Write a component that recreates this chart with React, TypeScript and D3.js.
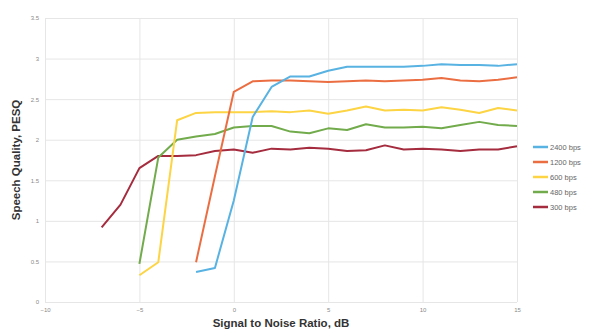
import * as d3 from 'd3';
import { useEffect, useRef } from 'react';

// x positions, dB
const snr = [-7, -6, -5, -4, -3, -2, -1, 0, 1, 2, 3, 4, 5, 6, 7, 8, 9, 10, 11, 12, 13, 14, 15];

// PESQ per series, null where the curve has no point
const bps2400 = [null, null, null, null, null, 0.37, 0.42, 1.25, 2.28, 2.65, 2.78, 2.78, 2.85, 2.9, 2.9, 2.9, 2.9, 2.91, 2.93, 2.92, 2.92, 2.91, 2.93];
const bps1200 = [null, null, null, null, null, 0.49, 1.55, 2.59, 2.72, 2.73, 2.73, 2.72, 2.71, 2.72, 2.73, 2.72, 2.73, 2.74, 2.76, 2.73, 2.72, 2.74, 2.77];
const bps600 = [null, null, 0.33, 0.49, 2.24, 2.33, 2.34, 2.34, 2.34, 2.35, 2.34, 2.36, 2.32, 2.36, 2.41, 2.36, 2.37, 2.36, 2.4, 2.37, 2.33, 2.39, 2.36];
const bps480 = [null, null, 0.47, 1.78, 2.0, 2.04, 2.07, 2.15, 2.17, 2.17, 2.1, 2.08, 2.14, 2.12, 2.19, 2.15, 2.15, 2.16, 2.14, 2.18, 2.22, 2.18, 2.17];
const bps300 = [0.92, 1.2, 1.65, 1.8, 1.8, 1.81, 1.86, 1.88, 1.84, 1.89, 1.88, 1.9, 1.89, 1.86, 1.87, 1.93, 1.88, 1.89, 1.88, 1.86, 1.88, 1.88, 1.92];

const seriesNames = ['2400 bps', '1200 bps', '600 bps', '480 bps', '300 bps'];
const seriesValues = [bps2400, bps1200, bps600, bps480, bps300];
const colors = ['#58b2e2', '#eb6e42', '#fcd444', '#72ab4c', '#a52c3e'];

const xTicks = [-10, -5, 0, 5, 10, 15];
const yTicks = [0, 0.5, 1, 1.5, 2, 2.5, 3, 3.5];

function App() {
    const svgRef = useRef(null);
    const width = 592;
    const height = 333;
    const margin = { top: 18, bottom: 31, left: 45, right: 75 };

    useEffect(() => {
        const svg = d3.select(svgRef.current);
        svg.selectAll('*').remove();

        const x = d3.scaleLinear().domain([-10, 15]).range([margin.left, width - margin.right]);
        const y = d3.scaleLinear().domain([0, 3.5]).range([height - margin.bottom, margin.top]);

        svg.append('rect').attr('width', width).attr('height', height).attr('fill', '#fff');

        // grid
        const grid = svg.append('g').attr('stroke', '#e6e6e6').attr('stroke-width', 1);
        grid.selectAll('.h').data(yTicks).enter().append('line')
            .attr('x1', x(-10)).attr('x2', x(15))
            .attr('y1', d => y(d) + 0.5).attr('y2', d => y(d) + 0.5);
        grid.selectAll('.v').data(xTicks).enter().append('line')
            .attr('y1', y(0)).attr('y2', y(3.5))
            .attr('x1', d => x(d) + 0.5).attr('x2', d => x(d) + 0.5);

        // axes labels
        const xAxis = d3.axisBottom(x).tickValues(xTicks).tickSize(0).tickPadding(6);
        const yAxis = d3.axisLeft(y).tickValues(yTicks).tickSize(0).tickPadding(6)
            .tickFormat(d3.format('~g'));
        const gx = svg.append('g').attr('transform', `translate(0, ${y(0)})`).call(xAxis);
        const gy = svg.append('g').attr('transform', `translate(${x(-10)}, 0)`).call(yAxis);
        [gx, gy].forEach(g => {
            g.select('.domain').remove();
            g.selectAll('text')
                .attr('fill', '#8a8a8a')
                .style('font-family', 'Arial, "Liberation Sans", sans-serif')
                .style('font-size', '6px');
        });

        // lines
        const line = d3.line<any>()
            .defined(d => d[1] != null)
            .x(d => x(d[0]))
            .y(d => y(d[1]));
        seriesValues.slice().reverse().forEach((vals, i) => {
            const k = seriesValues.length - 1 - i;
            svg.append('path')
                .datum(snr.map((s, j) => [s, vals[j]]))
                .attr('fill', 'none')
                .attr('stroke', colors[k])
                .attr('stroke-width', 2)
                .attr('stroke-linejoin', 'round')
                .attr('d', line);
        });

        // legend
        const legend = svg.append('g').attr('transform', 'translate(533, 147)');
        seriesNames.forEach((name, i) => {
            const g = legend.append('g').attr('transform', `translate(0, ${i * 15})`);
            g.append('line').attr('x1', 0).attr('x2', 15).attr('y1', 0).attr('y2', 0)
                .attr('stroke', colors[i]).attr('stroke-width', 2.5);
            g.append('text').attr('x', 17).attr('y', 2.5)
                .attr('fill', '#666')
                .style('font-family', 'Arial, "Liberation Sans", sans-serif')
                .style('font-size', '7.5px')
                .text(name);
        });

        // titles
        svg.append('text')
            .attr('x', (x(-10) + x(15)) / 2).attr('y', 327)
            .attr('text-anchor', 'middle')
            .attr('fill', '#333')
            .style('font-family', 'Arial, "Liberation Sans", sans-serif')
            .style('font-weight', 'bold')
            .style('font-size', '11.5px')
            .text('Signal to Noise Ratio, dB');
        svg.append('text')
            .attr('transform', `translate(20, ${(y(0) + y(3.5)) / 2}) rotate(-90)`)
            .attr('text-anchor', 'middle')
            .attr('fill', '#333')
            .style('font-family', 'Arial, "Liberation Sans", sans-serif')
            .style('font-weight', 'bold')
            .style('font-size', '11.5px')
            .text('Speech Quality, PESQ');
    }, []);

    return (
        <svg ref={svgRef} width={width} height={height}
            style={{ position: 'absolute', left: 0, top: 0 }}></svg>
    );
}

export default App;
